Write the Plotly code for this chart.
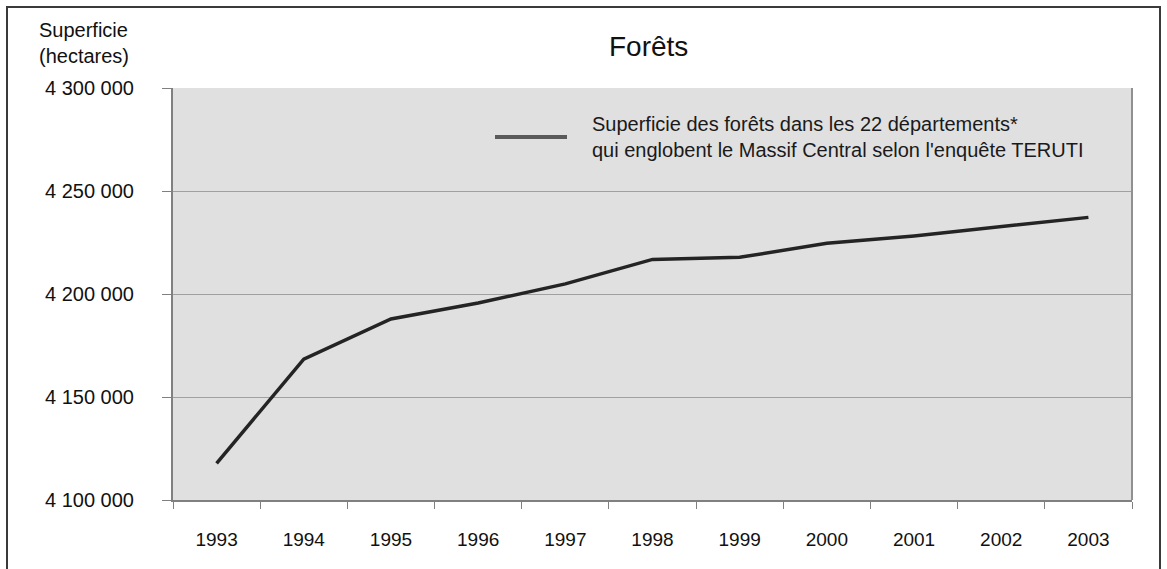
import plotly.graph_objects as go

# Data
years = ["1993", "1994", "1995", "1996", "1997", "1998", "1999", "2000", "2001", "2002", "2003"]
surface_ha = [4117800, 4168400, 4187900, 4195600, 4204900, 4216800, 4217800, 4224600, 4228200, 4232700, 4237200]
y_ticks = [4100000, 4150000, 4200000, 4250000, 4300000]
y_tick_labels = ["4 100 000", "4 150 000", "4 200 000", "4 250 000", "4 300 000"]

series_name = "Superficie des forêts dans les 22 départements*<br>qui englobent le Massif Central selon l'enquête TERUTI"

W, H = 1167, 569
L, R, T, B = 173, 35, 88, 69
pw, ph = W - L - R, H - T - B


def px_x(x):
    # pixel -> paper x
    return (x - L) / pw


def px_y(y):
    # pixel -> paper y
    return (H - B - y) / ph


font = "Liberation Sans, Arial, sans-serif"

fig = go.Figure()
fig.add_trace(go.Scatter(x=years, y=surface_ha, mode="lines", name="Superficie",
                         line=dict(color="#242424", width=3.5), showlegend=False))

# outer frame (bottom edge falls outside the picture)
fig.add_shape(type="rect", xref="paper", yref="paper",
              x0=px_x(7), x1=px_x(1160), y0=px_y(600), y1=px_y(7),
              line=dict(color="#3a3a3a", width=2), layer="below")

# legend key
fig.add_shape(type="line", xref="paper", yref="paper",
              x0=px_x(495), x1=px_x(567), y0=px_y(137), y1=px_y(137),
              line=dict(color="#5a5a5a", width=4))
fig.add_annotation(text=series_name, xref="paper", yref="paper", x=px_x(590), y=px_y(137),
                   xanchor="left", yanchor="middle", align="left", showarrow=False,
                   font=dict(family=font, size=20, color="#1a1a1a"))

# title and axis title
fig.add_annotation(text="Forêts", xref="paper", yref="paper", x=px_x(648), y=px_y(46),
                   xanchor="center", yanchor="middle", showarrow=False,
                   font=dict(family=font, size=28, color="#111111"))
fig.add_annotation(text="Superficie<br>(hectares)", xref="paper", yref="paper", x=px_x(37), y=px_y(43),
                   xanchor="left", yanchor="middle", align="left", showarrow=False,
                   font=dict(family=font, size=20, color="#111111"))

fig.update_layout(
    width=W, height=H,
    margin=dict(l=L, r=R, t=T, b=B),
    paper_bgcolor="white",
    plot_bgcolor="#e0e0e0",
    font=dict(family=font, size=20, color="#111111"),
    xaxis=dict(type="category", range=[-0.5, 10.5], tickson="boundaries", ticks="outside", ticklen=7,
               tickcolor="#808080", showline=True, linecolor="#808080", linewidth=2,
               showgrid=False, ticklabelstandoff=21,
               tickfont=dict(family=font, size=19, color="#111111")),
    yaxis=dict(range=[4100000, 4300000], tickvals=y_ticks, ticktext=y_tick_labels,
               ticks="outside", ticklen=9, tickcolor="#808080",
               showline=True, linecolor="#808080", linewidth=2,
               showgrid=True, gridcolor="#a0a0a0", gridwidth=1, zeroline=False,
               ticklabelstandoff=24,
               tickfont=dict(family=font, size=20, color="#111111")),
)
# right edge of the plot area
fig.add_shape(type="line", xref="paper", yref="paper", x0=1, x1=1, y0=0, y1=1,
              line=dict(color="#909090", width=2))

fig.write_html("out.html", config={"displayModeBar": False},
               post_script="document.body.style.margin='0';")
